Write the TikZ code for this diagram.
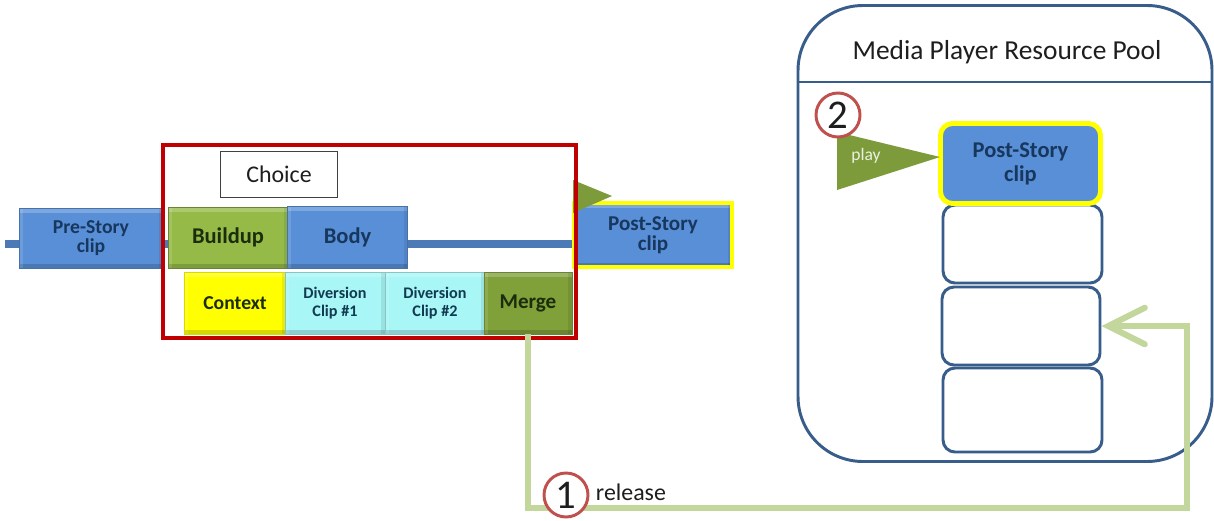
\documentclass[tikz,border=0pt]{standalone}
\usepackage{fontspec}
\setmainfont{Carlito}
\usetikzlibrary{arrows.meta}
\newlength\pxu
\setlength\pxu{0.025cm}
\definecolor{clipblue}{RGB}{88,143,214}
\definecolor{navy}{RGB}{23,55,94}
\definecolor{olive}{RGB}{125,155,58}
\definecolor{greenface}{RGB}{150,186,72}
\definecolor{mergeface}{RGB}{128,160,58}
\definecolor{aqua}{RGB}{168,246,246}
\definecolor{yel}{RGB}{255,255,0}
\definecolor{redbox}{RGB}{192,0,0}
\definecolor{poolblue}{RGB}{56,93,138}
\definecolor{linkgreen}{RGB}{195,214,155}
\definecolor{numred}{RGB}{192,80,77}
\definecolor{txt}{RGB}{30,30,30}
\definecolor{greentxt}{RGB}{28,45,12}
\definecolor{tealtxt}{RGB}{18,58,80}
\tikzset{
  sz/.style n args={2}{minimum width=#1*\pxu, minimum height=#2*\pxu},
  bevel/.style={path picture={
     \fill[white, opacity=0.22] (path picture bounding box.north west) rectangle ([yshift=-3.2pt]path picture bounding box.north east);
     \fill[black, opacity=0.16] (path picture bounding box.south west) rectangle ([yshift=3.2pt]path picture bounding box.south east);
     \fill[black, opacity=0.08] (path picture bounding box.north east) rectangle ([xshift=-2.5pt]path picture bounding box.south east);
     \fill[white, opacity=0.12] (path picture bounding box.north west) rectangle ([xshift=2.5pt]path picture bounding box.south west);
  }},
  clipbase/.style={rectangle, inner sep=0pt, align=center, font=\bfseries, bevel},
  bluebox/.style={clipbase, fill=clipblue, draw=clipblue!80!black, line width=0.4pt, text=navy},
  greenbox/.style={clipbase, fill=greenface, draw=olive!85!black, line width=0.4pt, text=greentxt},
  yellowbox/.style={clipbase, fill=yel, draw=yel!85!black, line width=0.4pt, text=greentxt},
  aquabox/.style={clipbase, fill=aqua, draw=aqua!80!black, line width=0.4pt, text=tealtxt},
  timeline/.style={draw=clipblue!85!black, line width=5.7pt},
  slotbox/.style={rectangle, rounded corners=8.5pt, draw=poolblue, line width=2.1pt, fill=white, inner sep=0pt},
  numcircle/.style={circle, draw=numred, line width=2.1pt, fill=white, inner sep=0pt, minimum size=44*\pxu, font=\fontsize{29}{29}\selectfont, text=txt},
  link/.style={draw=linkgreen, line width=4.3pt},
  tri/.style={fill=olive}
}
\begin{document}
\begin{tikzpicture}[x=0.025cm,y=-0.025cm]
\useasboundingbox (0,0) rectangle (1214,520);
\fill[white] (0,0) rectangle (1214,520);

% timeline
\coordinate (tlstart) at (5,244);
\node[inner sep=0pt, sz={1}{1}] (post1anchor) at (573,244) {};
\draw[timeline] (tlstart) -- (post1anchor.center);

% top row
\node[bluebox, sz={143}{60}, font=\bfseries\fontsize{14}{13}\selectfont] (pre) at (91,238) {Pre-Story\\clip};
\node[greenbox, sz={120}{61}, font=\bfseries\fontsize{16}{16}\selectfont] (buildup) at (228,237.5) {Buildup};
\node[bluebox, sz={120}{62}, font=\bfseries\fontsize{16}{16}\selectfont] (body) at (347.5,237) {Body};

% bottom row
\node[yellowbox, sz={102}{62}, font=\bfseries\fontsize{14}{14}\selectfont] (context) at (235,303) {Context};
\node[aquabox, sz={100}{62}, font=\bfseries\fontsize{11.5}{12.8}\selectfont] (div1) at (335,303) {Diversion\\Clip \#1};
\node[aquabox, sz={100}{62}, font=\bfseries\fontsize{11.5}{12.8}\selectfont] (div2) at (435,303) {Diversion\\Clip \#2};
\node[greenbox, fill=mergeface, sz={88}{62}, font=\bfseries\fontsize{15}{15}\selectfont] (merge) at (528,303) {Merge};

% post-story clip on the timeline
\node[bluebox, draw=yel, line width=3pt, sz={158}{64}, font=\bfseries\fontsize{15}{12.8}\selectfont] (post1) at (653,235) {Post-Story\\clip};
\fill[tri] (573,180) -- (612,196) -- (573,213) -- cycle;

% choice frame
\node[draw=redbox, line width=2.8pt, sz={413}{193}, inner sep=0pt] (choiceframe) at (369.5,241.5) {};
\node[draw=black!75, line width=0.6pt, fill=white, sz={117}{46}, inner sep=0pt, font=\fontsize{17}{17}\selectfont, text=txt] (choice) at (279,174) {Choice};

% resource pool
\node[draw=poolblue, line width=2.1pt, rounded corners=65*\pxu, sz={414}{456}, inner sep=0pt] (pool) at (1005,233.5) {};
\coordinate (divL) at (798,82);
\coordinate (divR) at (1212,82);
\draw[draw=poolblue, line width=1.6pt] (divL) -- (divR);
\node[font=\fontsize{19.5}{19.5}\selectfont, text=txt] (pooltitle) at (1007,52) {Media Player Resource Pool};

\node[slotbox, sz={159}{78}] (slot1) at (1022.5,244) {};
\node[slotbox, sz={158}{78}] (slot2) at (1021,326) {};
\node[slotbox, sz={159}{84}] (slot3) at (1022.5,410) {};
\node[rectangle, rounded corners=8.5pt, fill=clipblue, draw=yel, line width=3.5pt, sz={160}{80}, align=center, inner sep=0pt, text=navy, font=\bfseries\fontsize{16}{17}\selectfont] (post2) at (1020.5,163.5) {Post-Story\\clip};

% play
\fill[tri] (837,132) -- (940,157) -- (837,190) -- cycle;
\node[font=\fontsize{12.5}{12.5}\selectfont, text=white!85!olive] (playlbl) at (866,156) {play};
\node[numcircle] (num2) at (838,115) {2};

% release loop
\coordinate (loopBR) at (1187,508);
\draw[link, -{Straight Barb[length=26pt, width=26pt, line width=4.3pt, line cap=round]}] (merge.south) |- (loopBR) |- (slot2.east);
\node[numcircle] (num1) at (566,495) {1};
\node[font=\fontsize{17}{17}\selectfont, text=txt, anchor=west] (release) at (591,492) {release};
\end{tikzpicture}
\end{document}
